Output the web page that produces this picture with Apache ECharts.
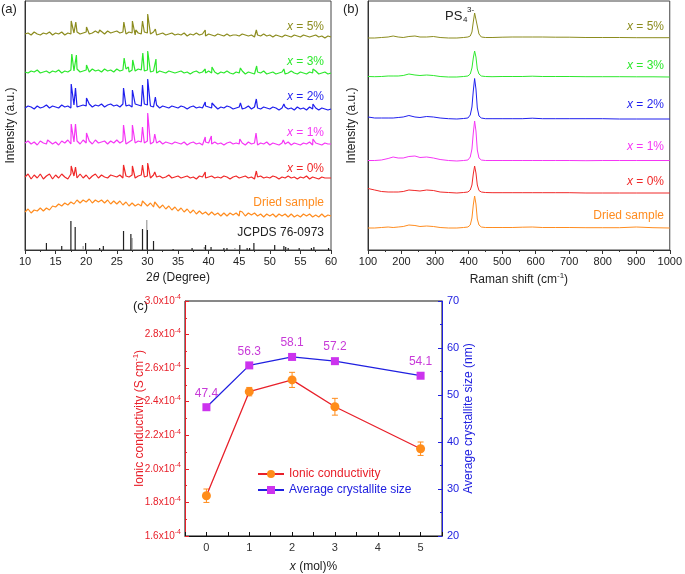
<!DOCTYPE html>
<html><head><meta charset="utf-8">
<script src="https://cdn.jsdelivr.net/npm/echarts@6/dist/echarts.min.js"></script>
<style>html,body{margin:0;padding:0;background:#fff}#c{width:685px;height:574px}</style>
</head><body><div id="c"></div><script>
// ---------- (a) XRD data (intensity a.u.) ----------
const xrdStart = 10, xrdStep = 0.5;
const xrd5 = [0,1,-1,2,0,-1,1,0,2,-1, 1,0,2,-1,1,0,1,2,0,1, 2,0,1,3,1,2,0,3,1,2, 3,1,2,0,2,1,-1,1,0,2, 1,0,2,-1,0,1,-1,0,1,-1, 0,-1,1,-2,0,-1,1,-1,0,-2, 0,-1,-2,0,-1,-2,0,-2,-1,-1, -2,0,-1,-2,-1,-3,-1,-2,0,-2, -1,-3,-1,-2,-3,-1,-2,-3,-1,-2, -3,-1,-2,-3,-2,-1,-3,-2,-4,-2, -3];
const xrd3 = [0,-1,1,0,2,-1,0,1,-1,1, 0,2,-1,1,0,2,1,3,0,1, 2,0,3,1,2,0,3,1,2,0, 3,1,2,3,0,2,1,3,2,1, 2,0,1,-1,1,0,-1,1,0,-1, 0,1,-1,0,-2,0,1,-1,0,-1, 1,-1,0,-2,0,-1,1,-1,-2,0, -1,1,-2,0,-1,-2,0,-1,1,-2, -1,0,-2,-1,0,-2,-1,1,-1,-2, 0,-1,-2,0,-1,1,-2,-1,0,-2, -1];
const xrd2 = [-1,1,0,-2,1,-1,0,2,-1,1, 0,-1,2,0,1,-1,2,0,1,2, 1,3,0,2,1,3,0,2,3,1, 2,0,3,1,2,0,3,2,1,3, 2,1,0,2,-1,1,0,-1,1,0, -1,1,0,-2,0,1,-1,0,-1,1, 0,-1,1,-2,0,-1,1,0,-2,-1, 0,-2,-1,1,-2,0,-1,-2,0,-1, -2,0,-1,-3,-1,0,-2,-1,-3,0, -2,-1,-3,0,-2,-1,-3,-1,-2,-3, -2];
const xrd1 = [0,2,-1,1,-2,2,0,-1,3,-1, 1,-2,2,0,3,-1,1,2,-1,3, 0,2,-1,3,0,1,2,-1,2,0, 3,0,2,-1,1,3,0,2,1,0, 2,-1,1,0,2,-1,1,0,-1,1, 0,-1,1,-2,0,1,-1,0,-2,1, 0,-1,1,-1,0,-2,0,1,-1,0, -1,0,-2,1,-1,0,-2,0,-1,1, -2,0,-1,-2,0,-1,1,-2,0,-1, -2,0,-1,1,-2,0,-1,-2,0,-1, -1];
const xrd0 = [0,3,-2,2,-1,3,-2,1,3,-2, 2,-1,3,0,-2,3,1,-1,3,-1, 2,-2,1,3,-1,2,0,-1,2,1, 0,2,-1,1,0,2,-1,1,2,0, 1,-1,2,0,1,-1,0,2,-1,0, 1,-1,0,1,-1,0,-2,1,0,-1, 0,1,-1,0,-1,1,0,-2,0,1, -1,0,1,-1,0,-2,0,1,-1,0, -1,1,0,-2,0,-1,1,-1,0,-2, 0,-1,1,-2,0,-1,-2,0,-1,-1, -1];
const xrdDried = [38,41,37,40,39,42,39,42,40,44, 43,46,44,47,45,48,46,50,47,50, 48,51,47,50,48,50,47,50,46,49, 46,49,45,48,44,47,44,46,44,47, 44,47,43,46,42,45,41,44,40,43, 39,42,38,41,37,40,36,39,36,38, 35,38,35,37,34,37,34,37,35,37, 34,38,34,37,35,37,34,36,33,36, 34,36,33,36,34,36,33,36,33,35, 33,36,34,36,33,35,33,36,33,35, 34];
const peaks5 = [[17.55,13],[18.3,12],[20.05,7],[22.2,4],[26.15,12],[27.55,13],[28.1,4],[29.2,13],[30.05,20],[31.3,5],[39.45,4],[47.8,4]];
const peaks3 = [[17.65,18],[18.4,17],[20.05,7],[22.3,4],[24.1,4],[26.2,14],[26.9,5],[27.6,12],[29.25,19],[30.05,21],[31.4,13],[35.6,3],[39.45,3],[40.55,5],[45.2,4],[47.85,6],[52.3,3],[57.05,3]];
const peaks2 = [[13.7,4],[17.55,23],[18.25,19],[20.05,9],[22.6,5],[26.1,19],[27.55,17],[29.2,22],[30.05,28],[31.3,10],[39.45,5],[40.55,4],[45.2,4],[47.8,8],[52.3,3],[57.05,3]];
const peaks1 = [[13.7,3],[17.55,19],[18.25,19],[20.05,10],[26.1,18],[27.55,18],[29.2,16],[30.05,30],[31.2,9],[39.45,6],[40.45,7],[45.1,4],[47.75,10],[52.2,3],[57.05,4]];
const peaks0 = [[17.55,11],[18.25,10],[26.1,12],[27.55,11],[29.2,12],[30.05,14],[31.2,5],[39.45,5],[47.8,6]];
const peaksDried = [[29.2,49],[31.2,48],[45.1,39],[47.8,39]];
const xrdOffsets = [216, 178, 143, 107, 73, 0];
const jcpdsBlack = [[13.5,7],[16.0,4],[17.5,29],[18.2,23],[19.9,7],[22.2,2],[22.8,4],[26.1,19],[27.3,16],[29.2,21],[30.0,20],[31.0,9],[34.2,1],[37.3,2],[39.5,5],[40.4,3],[42.5,2],[43.0,2],[45.1,5],[46.3,2],[46.7,2],[47.4,7],[50.8,5],[52.3,4],[52.6,3],[53.0,2],[54.8,2],[56.8,2],[57.2,3],[59.6,2]];
const jcpdsGrey = [[19.5,4],[27.5,12],[29.9,30],[39.3,3],[44.3,2],[48.2,1],[55.5,1]];

// ---------- (b) Raman data ----------
const ramanShift = [100,120,140,160,175,190,205,222,240,255,275,295,315,340,365,385,398,405,410,414,418,422,426,431,438,450,470,500,530,560,590,620,660,700,750,800,850,900,950,1000];
const raman5 = [0,0,0.5,1,2, 1,0.5,1.5,2,1, 1,1.5,0.5,0,0, 0.5,1,2,6,16, 25,26,12,4,1, 0.5,0.5,0.8,1,1, 1,1,0.8,0.8,0.5, 0.5,0.5,0.3,0.3,0.3];
const raman3 = [0.5,0.3,0.5,1,1, 1,1.5,3,2,1.5, 2,1.5,0.5,0,0, 0.5,1,3,9,19, 26,20,8,3,1, 0.5,0.3,0.5,0.5,0.5, 0.8,0.5,0.5,0.5,0.3, 0.3,0.3,0.2,0.2,0];
const raman2 = [2,1,1,1,1, 1.5,2,3.5,2,1.5, 2.5,2,1,0.3,0, 0.5,1,4,12,28, 40.5,30,11,3,1, 0.3,0.3,0.3,0.3,0.3, 0.8,0.3,0.3,0.3,0.3, 0.3,0,0,0,0];
const raman1 = [0.5,0.5,1,2.5,4, 3,3,4.5,5,3.5, 4,3,1.5,0.5,0, 0.5,1,4,12,28, 40,30,11,3,1, 0.5,0.5,0.5,0.5,0.5, 0.5,0.5,0.5,0.5,0.3, 0.5,0.5,0.5,0.5,0.5];
const raman0 = [4.5,3,1.5,1,1, 1,1.5,3,2.5,2, 3,2.5,1,0.5,0, 0.5,1,3,8,19, 27,20,8,2.5,1, 0.5,0.3,0.3,0.3,0.3, 0.3,0.3,0.3,0.3,0, 0,0,0,0,0];
const ramanDried = [0,0,0.5,1,0.5, 1,1.5,3,2.5,1.5, 2,1.5,0.5,0,0, 0.5,1,3,10,23, 32,24,9,3,1, 0.5,0.5,0.5,0.5,0.8, 1,0.5,0.5,0.5,0.3, 0.3,0.3,1,0.3,0];
const ramanOffsets = [212, 173, 131, 89, 57, 22];

// ---------- (c) data ----------
const xMol = [0, 1, 2, 3, 5];
const conductivity = [1.84, 2.46, 2.53, 2.37, 2.12];      // x10^-4 S cm^-1
const conductivityErr = [0.04, 0.025, 0.045, 0.05, 0.04];
const crystalliteSize = [47.4, 56.3, 58.1, 57.2, 54.1];   // nm

const sampleNames = ['x = 5%','x = 3%','x = 2%','x = 1%','x = 0%','Dried sample'];
const colors = ['#8c8c1e','#2de82d','#1f1fee','#f536f5','#f02828','#ff8c1f'];
const FONT = '"Liberation Sans", Arial, sans-serif';

function xrdData(base, peaks, offset) {
  const pts = base.map((v, i) => [xrdStart + i * xrdStep, v + offset]);
  peaks.forEach(p => pts.push([p[0], p[1] + offset]));
  pts.sort((a, b) => a[0] - b[0]);
  return pts;
}
const xrdBases = [xrd5, xrd3, xrd2, xrd1, xrd0, xrdDried];
const xrdPeaks = [peaks5, peaks3, peaks2, peaks1, peaks0, peaksDried];
const ramanSets = [raman5, raman3, raman2, raman1, raman0, ramanDried];

const series = [];
xrdBases.forEach((b, k) => {
  series.push({type:'line', xAxisIndex:0, yAxisIndex:0, showSymbol:false, silent:true,
    lineStyle:{color:colors[k], width:1.2}, data:xrdData(b, xrdPeaks[k], xrdOffsets[k])});
});
series.push({type:'bar', xAxisIndex:0, yAxisIndex:0, barWidth:1.2, silent:true, itemStyle:{color:'#9a9a9a'}, data:jcpdsGrey, barGap:'-100%'});
series.push({type:'bar', xAxisIndex:0, yAxisIndex:0, barWidth:1.2, silent:true, itemStyle:{color:'#222'}, data:jcpdsBlack, barGap:'-100%'});
ramanSets.forEach((s, k) => {
  series.push({type:'line', xAxisIndex:1, yAxisIndex:1, showSymbol:false, silent:true,
    lineStyle:{color:colors[k], width:1}, data:s.map((v, i) => [ramanShift[i], v + ramanOffsets[k]])});
});
const RED = '#e8202a', ORANGE = '#ff8c1a', BLUE = '#2020e0', VIOLET = '#cc33ee', LBL = '#c83ad8';
series.push({type:'custom', name:'err', xAxisIndex:2, yAxisIndex:2, z:3,
  data: xMol.map((x, i) => [x, conductivity[i] - conductivityErr[i], conductivity[i] + conductivityErr[i]]),
  encode:{x:0, y:[1,2]},
  renderItem(params, api) {
    const x = api.value(0);
    const lo = api.coord([x, api.value(1)]), hi = api.coord([x, api.value(2)]);
    const w = 3, st = {stroke:ORANGE, lineWidth:1};
    return {type:'group', children:[
      {type:'line', shape:{x1:lo[0], y1:lo[1], x2:hi[0], y2:hi[1]}, style:st},
      {type:'line', shape:{x1:lo[0]-w, y1:lo[1], x2:lo[0]+w, y2:lo[1]}, style:st},
      {type:'line', shape:{x1:hi[0]-w, y1:hi[1], x2:hi[0]+w, y2:hi[1]}, style:st}
    ]};
  }});
series.push({type:'line', name:'Ionic conductivity', xAxisIndex:2, yAxisIndex:2, z:4,
  symbol:'circle', symbolSize:9, lineStyle:{color:RED, width:1.3}, itemStyle:{color:ORANGE, borderWidth:0},
  data: xMol.map((x, i) => [x, conductivity[i]])});
series.push({type:'line', name:'Average crystallite size', xAxisIndex:2, yAxisIndex:3, z:4,
  symbol:'rect', symbolSize:8, lineStyle:{color:BLUE, width:1.3}, itemStyle:{color:VIOLET, borderWidth:0},
  label:{show:true, position:'top', distance:4, color:LBL, fontSize:12, fontFamily:FONT},
  data: xMol.map((x, i) => [x, crystalliteSize[i]])});

const tickCommon = {show:true, length:4, lineStyle:{color:'#333'}};
const graphics = [];
function txt(x, y, text, color, align, size, rich) {
  graphics.push({type:'text', x, y, silent:true, style:{text, fill:color, font: (size||12)+'px '+FONT,
    align:align||'left', textAlign:align||'left', verticalAlign:'middle', textVerticalAlign:'middle',
    rich: rich || {}}});
}
const italicRich = c => ({i:{fontStyle:'italic', fill:c, fontSize:12, fontFamily:FONT}});
const aY = [27, 62, 97, 133, 169, 203];
const bY = [27, 66, 105, 147, 182, 216];
sampleNames.forEach((n, k) => {
  const t = k < 5 ? '{i|x}' + n.slice(1) : n;
  txt(324, aY[k], t, colors[k], 'right', 12, italicRich(colors[k]));
  txt(664, bY[k], t, colors[k], 'right', 12, italicRich(colors[k]));
});
txt(324, 233, 'JCPDS 76-0973', '#222', 'right', 12);
txt(1, 9, '(a)', '#222', 'left', 13);
txt(343, 9, '(b)', '#222', 'left', 13);
txt(133, 306, '(c)', '#222', 'left', 13);
txt(445, 16, 'PS', '#222', 'left', 13);
txt(463, 20, '4', '#222', 'left', 8);
txt(467, 10, '3-', '#222', 'left', 8);

const option = {
  animation:false,
  textStyle:{fontFamily:FONT},
  grid:[
    {left:25, top:1, width:306, height:249, show:true, borderColor:'#444', borderWidth:1, containLabel:false},
    {left:368, top:1, width:305, height:249, show:true, borderColor:'#444', borderWidth:1, containLabel:false},
    {left:185, top:301, width:257, height:237, show:true, borderColor:'#111', borderWidth:1, containLabel:false}
  ],
  xAxis:[
    {gridIndex:0, type:'value', min:10, max:60, interval:5,
      axisLine:{onZero:false, lineStyle:{color:'#333'}}, axisTick:tickCommon, minorTick:{show:true, splitNumber:2, length:2, lineStyle:{color:'#333'}},
      splitLine:{show:false}, axisLabel:{color:'#222', fontSize:11, margin:6},
      name:'2{i|θ} (Degree)', nameLocation:'middle', nameGap:22,
      nameTextStyle:{color:'#222', fontSize:12, rich:{i:{fontStyle:'italic', fontSize:12, color:'#222'}}}},
    {gridIndex:1, type:'value', min:100, max:1000, interval:100,
      axisLine:{onZero:false, lineStyle:{color:'#333'}}, axisTick:tickCommon, minorTick:{show:true, splitNumber:2, length:2, lineStyle:{color:'#333'}},
      splitLine:{show:false}, axisLabel:{color:'#222', fontSize:11, margin:6, formatter: v => String(v)},
      name:'Raman shift (cm{sup|-1})', nameLocation:'middle', nameGap:22,
      nameTextStyle:{color:'#222', fontSize:12, rich:{sup:{fontSize:8, color:'#222', verticalAlign:'top', lineHeight:16}}}},
    {gridIndex:2, type:'value', min:-0.5, max:5.5, interval:0.5,
      axisLine:{onZero:false, lineStyle:{color:'#111'}}, axisTick:{show:true, inside:true, length:4, lineStyle:{color:'#111'}},
      splitLine:{show:false}, axisLabel:{color:'#333', fontSize:11, margin:6,
        formatter: v => Number.isInteger(v) && v >= 0 ? String(v) : ''},
      name:'{i|x} (mol)%', nameLocation:'middle', nameGap:25,
      nameTextStyle:{color:'#222', fontSize:12, rich:{i:{fontStyle:'italic', fontSize:12, color:'#222'}}}}
  ],
  yAxis:[
    {gridIndex:0, type:'value', min:0, max:249, axisLine:{show:true, onZero:false, lineStyle:{color:'#333'}}, axisTick:{show:false},
      axisLabel:{show:false}, splitLine:{show:false},
      name:'Intensity (a.u.)', nameLocation:'middle', nameGap:8, nameRotate:90, nameTextStyle:{color:'#222', fontSize:12}},
    {gridIndex:1, type:'value', min:0, max:249, axisLine:{show:true, onZero:false, lineStyle:{color:'#333'}}, axisTick:{show:false},
      axisLabel:{show:false}, splitLine:{show:false},
      name:'Intensity (a.u.)', nameLocation:'middle', nameGap:10, nameRotate:90, nameTextStyle:{color:'#222', fontSize:12}},
    {gridIndex:2, type:'value', min:1.6, max:3.0, interval:0.2, position:'left',
      axisLine:{show:true, onZero:false, lineStyle:{color:RED}}, axisTick:{show:true, inside:true, length:4, lineStyle:{color:RED}},
      minorTick:{show:true, splitNumber:2, length:2, lineStyle:{color:RED}}, splitLine:{show:false},
      axisLabel:{color:RED, fontSize:10, margin:4, formatter: v => v.toFixed(1) + 'x10{sup|-4}',
        rich:{sup:{fontSize:7, color:RED, verticalAlign:'top', lineHeight:14}}},
      name:'Ionic conductivity (S cm{sup|-1})', nameLocation:'middle', nameGap:37, nameRotate:90, nameMoveOverlap:false,
      nameTextStyle:{color:RED, fontSize:12, rich:{sup:{fontSize:8, color:RED, verticalAlign:'top', lineHeight:16}}}},
    {gridIndex:2, type:'value', min:20, max:70, interval:10, position:'right',
      axisLine:{show:true, onZero:false, lineStyle:{color:BLUE}}, axisTick:{show:true, inside:true, length:4, lineStyle:{color:BLUE}},
      minorTick:{show:true, splitNumber:2, length:2, lineStyle:{color:BLUE}}, splitLine:{show:false},
      axisLabel:{color:BLUE, fontSize:11, margin:5},
      name:'Average crystallite size (nm)', nameLocation:'middle', nameGap:18, nameRotate:90,
      nameTextStyle:{color:BLUE, fontSize:12}}
  ],
  legend:{orient:'vertical', left:252, top:463, itemWidth:26, itemHeight:10, itemGap:4,
    textStyle:{fontSize:12, fontFamily:FONT},
    data:[{name:'Ionic conductivity', textStyle:{color:RED}}, {name:'Average crystallite size', textStyle:{color:BLUE}}]},
  graphic: graphics,
  series
};
const chart = echarts.init(document.getElementById('c'), null, {renderer:'canvas'});
chart.setOption(option);
</script></body></html>
